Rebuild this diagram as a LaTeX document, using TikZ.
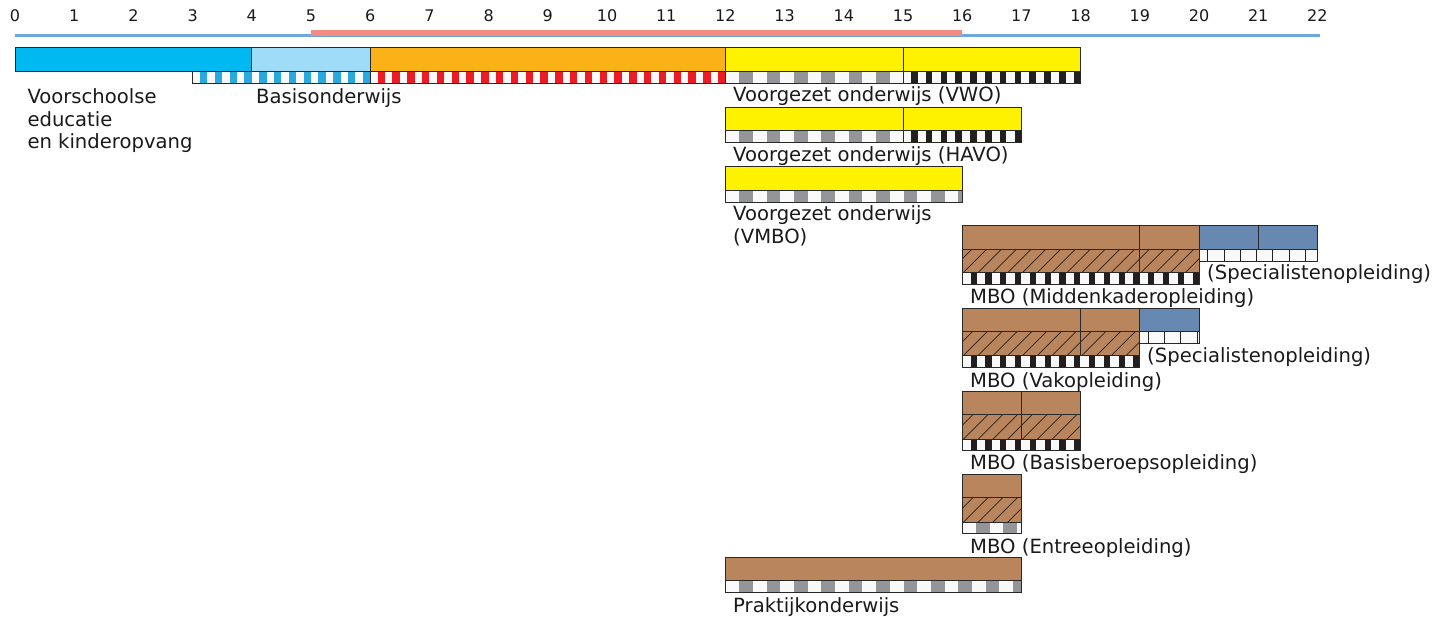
\documentclass[tikz,border=0pt]{standalone}
\usepackage{fontspec}
\setmainfont{DejaVu Sans}
\definecolor{cyanc}{RGB}{0,185,241}
\definecolor{lbluec}{RGB}{159,220,248}
\definecolor{orangec}{RGB}{251,178,23}
\definecolor{yellowc}{RGB}{255,242,0}
\definecolor{brownc}{RGB}{185,133,92}
\definecolor{steelc}{RGB}{103,137,177}
\definecolor{sblue}{RGB}{42,168,224}
\definecolor{sred}{RGB}{237,28,36}
\definecolor{sgray}{RGB}{147,149,152}
\definecolor{sblack}{RGB}{35,31,32}
\definecolor{swhite}{RGB}{249,249,249}
\definecolor{framec}{RGB}{40,40,40}
\definecolor{pinkc}{RGB}{244,138,132}
\definecolor{tlblue}{RGB}{111,168,220}
\definecolor{txtc}{RGB}{26,26,26}

% #1 x1, #2 x2, #3 ytop, #4 ybot, #5 colour, #6 period, #7 coloured width, #8 offset
\newcommand\stripeseg[8]{%
  \begin{scope}
    \clip (#1,#3) rectangle (#2,#4);
    \fill[swhite] (#1,#3) rectangle (#2,#4);
    \pgfmathtruncatemacro{\nnst}{(#2-#1)/#6+1}
    \foreach \k in {0,...,\nnst}{\fill[#5] ({#1+#8+\k*#6},#3) rectangle ({#1+#8+\k*#6+#7},#4);}
  \end{scope}
  \draw[frame] (#1,#3) rectangle (#2,#4);}
% #1 x1, #2 x2, #3 ytop, #4 ybot, #5 offset, #6 period
\newcommand\cellseg[6]{%
  \fill[swhite] (#1,#3) rectangle (#2,#4);
  \begin{scope}
    \clip (#1,#3) rectangle (#2,#4);
    \pgfmathtruncatemacro{\nncl}{(#2-#1)/#6+1}
    \foreach \k in {0,...,\nncl}{\draw[celline] ({#1+#5+\k*#6},#3) -- ({#1+#5+\k*#6},#4);}
  \end{scope}
  \draw[frame] (#1,#3) rectangle (#2,#4);}
% #1 x1, #2 x2, #3 ytop, #4 ybot
\newcommand\hatchseg[4]{%
  \fill[brownc] (#1,#3) rectangle (#2,#4);
  \begin{scope}
    \clip (#1,#3) rectangle (#2,#4);
    \pgfmathtruncatemacro{\nnht}{(#2-#1)/14.8+1}
    \foreach \k in {-2,...,\nnht}{\draw[hatchline] ({#1+1+\k*14.8},#4) -- ++({#4-#3},{-(#4-#3)});}
  \end{scope}
  \draw[frame] (#1,#3) rectangle (#2,#4);}

\begin{document}
\begin{tikzpicture}[x=1pt,y=-1pt,
  frame/.style={draw=framec, line width=0.9pt},
  celline/.style={draw=sblack, line width=1pt},
  hatchline/.style={draw=sblack, line width=0.7pt},
  lbl/.style={font=\fontsize{19.6}{22}\selectfont, anchor=base west, inner sep=0pt, text=txtc},
  ticklbl/.style={font=\fontsize{16}{18}\selectfont, anchor=base, inner sep=0pt, text=txtc}]
\useasboundingbox (0,0) rectangle (1434,617);
\fill[white] (0,0) rectangle (1434,617);

% scale
\foreach \i in {0,...,22}{\node[ticklbl] (t\i) at ({15+59.2*\i},21.7) {\i};}
\draw[tlblue, line width=2.2pt] (15,35.5) -- (1320,35.5);
\draw[pinkc, line width=6pt] (311,33) -- (962.2,33);

% row 1
\filldraw[frame, fill=cyanc] (15,47.5) rectangle (251.8,71.5);
\filldraw[frame, fill=lbluec] (251.8,47.5) rectangle (370.2,71.5);
\filldraw[frame, fill=orangec] (370.2,47.5) rectangle (725.4,71.5);
\filldraw[frame, fill=yellowc] (725.4,47.5) rectangle (903,71.5);
\filldraw[frame, fill=yellowc] (903,47.5) rectangle (1080.6,71.5);
\stripeseg{192.6}{370.2}{71.5}{83.3}{sblue}{14.8}{7.4}{7.4}
\stripeseg{370.2}{725.4}{71.5}{83.3}{sred}{14.8}{7.4}{7.4}
\stripeseg{725.4}{903}{71.5}{83.3}{sgray}{27.4}{13.7}{13.7}
\stripeseg{903}{1080.6}{71.5}{83.3}{sblack}{14.8}{6.6}{8}

% row 2 HAVO
\filldraw[frame, fill=yellowc] (725.4,107.3) rectangle (903,130.7);
\filldraw[frame, fill=yellowc] (903,107.3) rectangle (1021.4,130.7);
\stripeseg{725.4}{903}{130.7}{142.7}{sgray}{27.4}{13.7}{13.7}
\stripeseg{903}{1021.4}{130.7}{142.7}{sblack}{14.8}{6.6}{8}

% row 3 VMBO
\filldraw[frame, fill=yellowc] (725.4,166.7) rectangle (962.2,190.7);
\stripeseg{725.4}{962.2}{190.7}{202.3}{sgray}{27.4}{13.7}{13.7}

% row 4 Middenkader
\filldraw[frame, fill=brownc] (962.2,225) rectangle (1139.8,249.3);
\filldraw[frame, fill=brownc] (1139.8,225) rectangle (1199,249.3);
\hatchseg{962.2}{1139.8}{249.3}{272.7}
\hatchseg{1139.8}{1199}{249.3}{272.7}
\stripeseg{962.2}{1199}{272.7}{284}{sblack}{14.8}{6.2}{8.3}
\filldraw[frame, fill=steelc] (1199,225) rectangle (1258.2,249.3);
\filldraw[frame, fill=steelc] (1258.2,225) rectangle (1317.4,249.3);
\cellseg{1199}{1317.4}{249.3}{261}{8.7}{16.3}

% row 5 Vakopleiding
\filldraw[frame, fill=brownc] (962.2,308.3) rectangle (1080.6,331.7);
\filldraw[frame, fill=brownc] (1080.6,308.3) rectangle (1139.8,331.7);
\hatchseg{962.2}{1080.6}{331.7}{355.7}
\hatchseg{1080.6}{1139.8}{331.7}{355.7}
\stripeseg{962.2}{1139.8}{355.7}{367.3}{sblack}{14.8}{6.2}{8.3}
\filldraw[frame, fill=steelc] (1139.8,308.3) rectangle (1199,331.7);
\cellseg{1139.8}{1199}{331.7}{343.3}{8.5}{16.3}

% row 6 Basisberoeps
\filldraw[frame, fill=brownc] (962.2,391.7) rectangle (1021.4,414.3);
\filldraw[frame, fill=brownc] (1021.4,391.7) rectangle (1080.6,414.3);
\hatchseg{962.2}{1021.4}{414.3}{439.3}
\hatchseg{1021.4}{1080.6}{414.3}{439.3}
\stripeseg{962.2}{1080.6}{439.3}{450.7}{sblack}{14.8}{6.2}{8.3}

% row 7 Entree
\filldraw[frame, fill=brownc] (962.2,474.3) rectangle (1021.4,497.7);
\hatchseg{962.2}{1021.4}{497.7}{522.3}
\stripeseg{962.2}{1021.4}{522.3}{533.3}{sgray}{27.4}{13.7}{13.7}

% row 8 Praktijk
\filldraw[frame, fill=brownc] (725.4,557.3) rectangle (1021.4,580.7);
\stripeseg{725.4}{1021.4}{580.7}{592.3}{sgray}{27.4}{13.7}{13.7}

% labels
\node[lbl] (voor1) at (27.3,104) {Voorschoolse};
\node[lbl] (voor2) at (27.3,126.6) {educatie};
\node[lbl] (voor3) at (27.3,149) {en kinderopvang};
\node[lbl] (basis) at (256,104) {Basisonderwijs};
\node[lbl] (vwo) at (733,102) {Voorgezet onderwijs (VWO)};
\node[lbl] (havo) at (733,161.5) {Voorgezet onderwijs (HAVO)};
\node[lbl] (vmboa) at (733,221) {Voorgezet onderwijs};
\node[lbl] (vmbob) at (733,243.5) {(VMBO)};
\node[lbl] (speca) at (1207,280) {(Specialistenopleiding)};
\node[lbl] (midden) at (970,304) {MBO (Middenkaderopleiding)};
\node[lbl] (specb) at (1147,362.8) {(Specialistenopleiding)};
\node[lbl] (vak) at (970,387.3) {MBO (Vakopleiding)};
\node[lbl] (bbl) at (970,469.6) {MBO (Basisberoepsopleiding)};
\node[lbl] (entree) at (970,553) {MBO (Entreeopleiding)};
\node[lbl] (prak) at (733,612) {Praktijkonderwijs};
\end{tikzpicture}
\end{document}
